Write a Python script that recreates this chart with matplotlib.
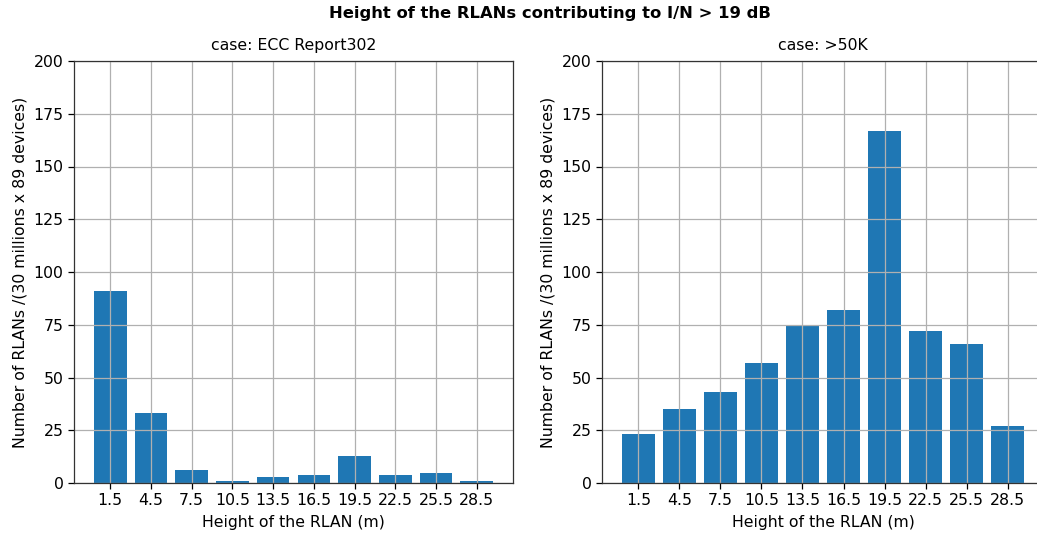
import matplotlib
matplotlib.use("Agg")
import matplotlib.pyplot as plt

heights = [1.5, 4.5, 7.5, 10.5, 13.5, 16.5, 19.5, 22.5, 25.5, 28.5]
tick_labels = ["1.5", "4.5", "7.5", "10.5", "13.5", "16.5", "19.5", "22.5", "25.5", "28.5"]
ecc_values = [91, 33, 6, 1, 2.7, 3.8, 13, 3.8, 4.8, 1]
k50_values = [23, 35, 43, 57, 75, 82, 167, 72, 66, 27]
titles = ["case: ECC Report302", "case: >50K"]

fs = 11.3
fig = plt.figure(figsize=(10.37, 5.35), dpi=100)
W, H = 1037, 535
ax1 = fig.add_axes([74 / W, (H - 483) / H, 439 / W, 422 / H])
ax2 = fig.add_axes([602 / W, (H - 483) / H, 442 / W, 422 / H])

for ax, vals, t in zip([ax1, ax2], [ecc_values, k50_values], titles):
    ax.bar(heights, vals, width=2.4, color="#1f77b4")
    ax.set_xticks(heights)
    ax.set_xticklabels(tick_labels)
    ax.set_ylim(0, 200)
    ax.set_yticks(range(0, 201, 25))
    ax.grid(True, color="#b0b0b0", linewidth=0.9)
    ax.set_title(t, fontsize=fs, pad=8)
    ax.set_xlabel("Height of the RLAN (m)", fontsize=fs, labelpad=5)
    ax.set_ylabel("Number of RLANs /(30 millions x 89 devices)", fontsize=fs)
    ax.tick_params(labelsize=fs, length=4, width=0.9)
    for s in ax.spines.values():
        s.set_linewidth(0.9)
        s.set_color("#333333")

fig.suptitle("Height of the RLANs contributing to I/N > 19 dB", fontsize=11.8,
             fontweight="bold", x=550 / W, y=1 - 13.5 / H, va="center")
fig.savefig("out.png", dpi=100)
